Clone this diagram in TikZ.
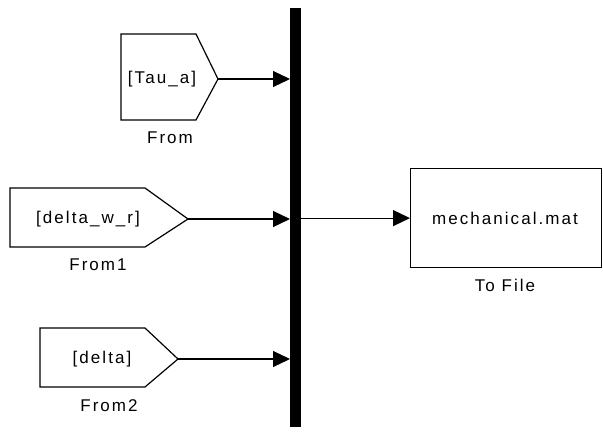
\documentclass[tikz,border=0pt]{standalone}
\usepackage{fontspec}
\setmainfont[LetterSpace=12]{Liberation Sans}
\usetikzlibrary{arrows.meta}
\begin{document}
\begin{tikzpicture}[x=1pt,y=-1pt,
  blk/.style={draw=black,line width=1.2pt,line join=miter},
  txt/.style={font=\fontsize{17}{20}\selectfont,inner sep=0pt,anchor=center},
  sig/.style={draw=black,line width=1.2pt,-{Triangle[length=17pt,width=16pt]}},
  sigout/.style={draw=black,line width=1.2pt,-{Triangle[length=17pt,width=16pt]}}]
\useasboundingbox (0,0) rectangle (603,432);
\fill[white] (0,0) rectangle (603,432);
% Bus bar
\node[fill=black,draw=none,minimum width=11pt,minimum height=419pt,inner sep=0pt,anchor=north west] (bar) at (290,8) {};
% From
\draw[blk] (121,34) -- (196,34) -- (218,79) coordinate (fromtip) -- (196,120) -- (121,120) -- cycle;
\node[txt] (fromtxt) at (162,79) {[Tau\_a]};
\node[txt] (fromlbl) at (170,138) {From};
% From1
\draw[blk] (10,188) -- (145,188) -- (188,219) coordinate (fromonetip) -- (145,247) -- (10,247) -- cycle;
\node[txt] (fromonetxt) at (88,219) {[delta\_w\_r]};
\node[txt] (fromonelbl) at (98,265) {From1};
% From2
\draw[blk] (40,328) -- (145,328) -- (178,359) coordinate (fromtwotip) -- (145,387) -- (40,387) -- cycle;
\node[txt] (fromtwotxt) at (102,359) {[delta]};
\node[txt] (fromtwolbl) at (109,406) {From2};
% To File
\node[blk,minimum width=191pt,minimum height=99pt,inner sep=0pt,anchor=north west] (tofile) at (410,168) {};
\node[txt] (tofiletxt) at (505,218) {mechanical.mat};
\node[txt] (tofilelbl) at (505,285) {To File};
% Connectors
\draw[sig] (fromtip) -- (bar.west |- fromtip);
\draw[sig] (fromonetip) -- (bar.west |- fromonetip);
\draw[sig] (fromtwotip) -- (bar.west |- fromtwotip);
\draw[sigout] (bar.east |- tofile.west) -- (tofile.west);
\end{tikzpicture}
\end{document}
